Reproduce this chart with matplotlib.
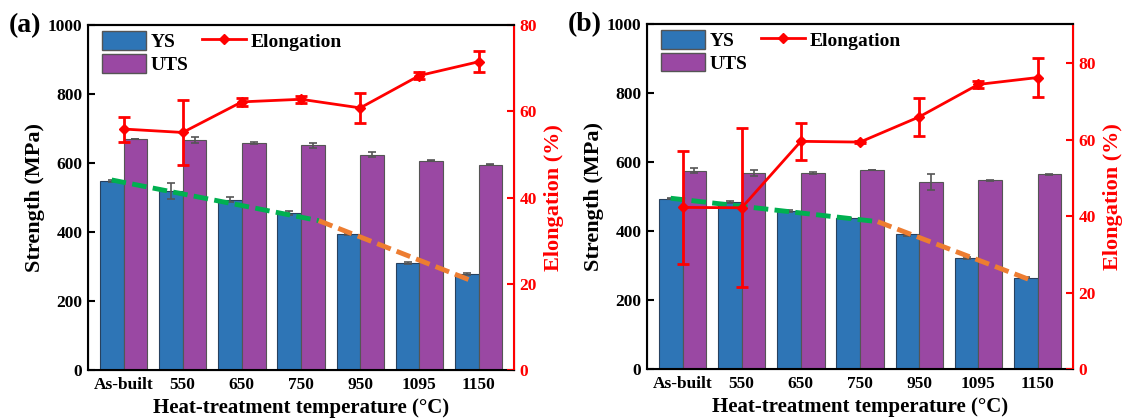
import matplotlib
matplotlib.use('Agg')
import matplotlib.pyplot as plt
from matplotlib.lines import Line2D
from matplotlib.patches import Patch
import numpy as np

plt.rcParams['font.family'] = ['Liberation Serif', 'DejaVu Serif']
plt.rcParams['font.weight'] = 'bold'
plt.rcParams['axes.labelweight'] = 'bold'

# categories
temps = ['As-built', '550', '650', '750', '950', '1095', '1150']

# panel (a)
ys_a = [548, 520, 494, 454, 394, 311, 278]
ys_a_err = [2, 23, 8, 6, 2, 3, 2]
uts_a = [670, 667, 659, 652, 624, 607, 595]
uts_a_err = [1, 8, 3, 7, 7, 2, 2]
el_a = [55.9, 55.1, 62.2, 62.8, 60.8, 68.3, 71.5]
el_a_err = [2.9, 7.5, 1.0, 0.8, 3.4, 0.9, 2.4]
# trend lines (x in category units, y in MPa)
green_a_x = [-0.2, 3.3]
green_a_y = [551, 433]
orange_a_x = [3.3, 5.85]
orange_a_y = [433, 261]

# panel (b)
ys_b = [494, 484, 458, 437, 390, 323, 265]
ys_b_err = [2, 3, 3, 1, 5, 3, 1]
uts_b = [575, 569, 567, 578, 542, 547, 564]
uts_b_err = [8, 9, 3, 0, 23, 2, 1]
el_b = [42.3, 42.2, 59.6, 59.4, 66.0, 74.5, 76.3]
el_b_err = [14.8, 20.8, 4.9, 0.3, 5.05, 1.0, 5.2]
green_b_x = [-0.2, 3.3]
green_b_y = [495, 427]
orange_b_x = [3.3, 5.88]
orange_b_y = [427, 258]

BLUE = '#2E75B6'
PURPLE = '#9A48A3'
RED = '#FF0000'
GREEN = '#00B050'
ORANGE = '#ED7D31'


def draw_panel(ax, ys, ys_err, uts, uts_err, el, el_err, gx, gy, ox, oy, el_max, tag):
    x = np.arange(len(temps))
    w = 0.4
    ekw = dict(ecolor='#555555', capsize=3, elinewidth=1.2, capthick=1.2)
    ax.bar(x - w / 2, ys, w, yerr=ys_err, color=BLUE, edgecolor='#27415f',
           linewidth=0.8, error_kw=ekw, zorder=2)
    ax.bar(x + w / 2, uts, w, yerr=uts_err, color=PURPLE, edgecolor='#555555',
           linewidth=0.8, error_kw=ekw, zorder=2)
    ax.plot(gx, gy, color=GREEN, lw=3.5, dashes=(3, 1.3), zorder=3)
    ax.plot(ox, oy, color=ORANGE, lw=3.5, dashes=(3, 1.3), zorder=3)

    ax.set_xlim(-0.6, 6.6)
    ax.set_ylim(0, 1000)
    ax.set_yticks(np.arange(0, 1001, 200))
    ax.set_xticks(x)
    ax.set_xticklabels(temps)
    ax.tick_params(axis='x', length=0, labelsize=12.5, pad=5)
    ax.tick_params(axis='y', direction='in', length=5, width=1.5, labelsize=12.5, pad=4)
    ax.set_ylabel('Strength (MPa)', fontsize=16, labelpad=2)
    ax.set_xlabel('Heat-treatment temperature (\u00b0C)', fontsize=15, labelpad=4)
    for s in ['left', 'bottom', 'top']:
        ax.spines[s].set_linewidth(1.5)

    ax2 = ax.twinx()
    ax2.errorbar(x, el, yerr=el_err, color=RED, lw=2, marker='D', ms=5,
                 elinewidth=2, capsize=4, capthick=2, zorder=4)
    ax2.set_ylim(0, el_max)
    ax2.set_yticks(np.arange(0, 81, 20))
    ax2.tick_params(axis='y', direction='in', length=5, width=1.5, colors=RED,
                    labelsize=12.5, pad=4)
    ax2.spines['right'].set_color(RED)
    ax2.spines['right'].set_linewidth(1.5)
    ax2.spines['top'].set_linewidth(1.5)
    ax2.set_ylabel('Elongation (%)', fontsize=16, color=RED, labelpad=5)

    handles = [Patch(facecolor=BLUE, edgecolor='#555555', label='YS'),
               Patch(facecolor=PURPLE, edgecolor='#555555', label='UTS'),
               Line2D([], [], color=RED, lw=2, marker='D', ms=5, label='Elongation')]
    ax2.legend(handles=handles, ncol=2, loc='upper left', bbox_to_anchor=(0.033, 0.983),
               frameon=False, fontsize=14, borderpad=0, borderaxespad=0,
               handlelength=2.25, handleheight=1.1, handletextpad=0.25,
               labelspacing=0.15, columnspacing=0.7)
    fig = ax.figure
    pos = ax.get_position()
    fig.text(pos.x0 - 0.07, pos.y1 - 0.002, tag, fontsize=20, fontweight='bold', va='center')


fig = plt.figure(figsize=(11.27, 4.19), dpi=100)
ax_a = fig.add_axes([0.0781, 0.117, 0.378, 0.823])
ax_b = fig.add_axes([0.5741, 0.1195, 0.378, 0.823])
draw_panel(ax_a, ys_a, ys_a_err, uts_a, uts_a_err, el_a, el_a_err,
           green_a_x, green_a_y, orange_a_x, orange_a_y, 80, '(a)')
draw_panel(ax_b, ys_b, ys_b_err, uts_b, uts_b_err, el_b, el_b_err,
           green_b_x, green_b_y, orange_b_x, orange_b_y, 90.3, '(b)')

fig.savefig('out.png', dpi=100)
